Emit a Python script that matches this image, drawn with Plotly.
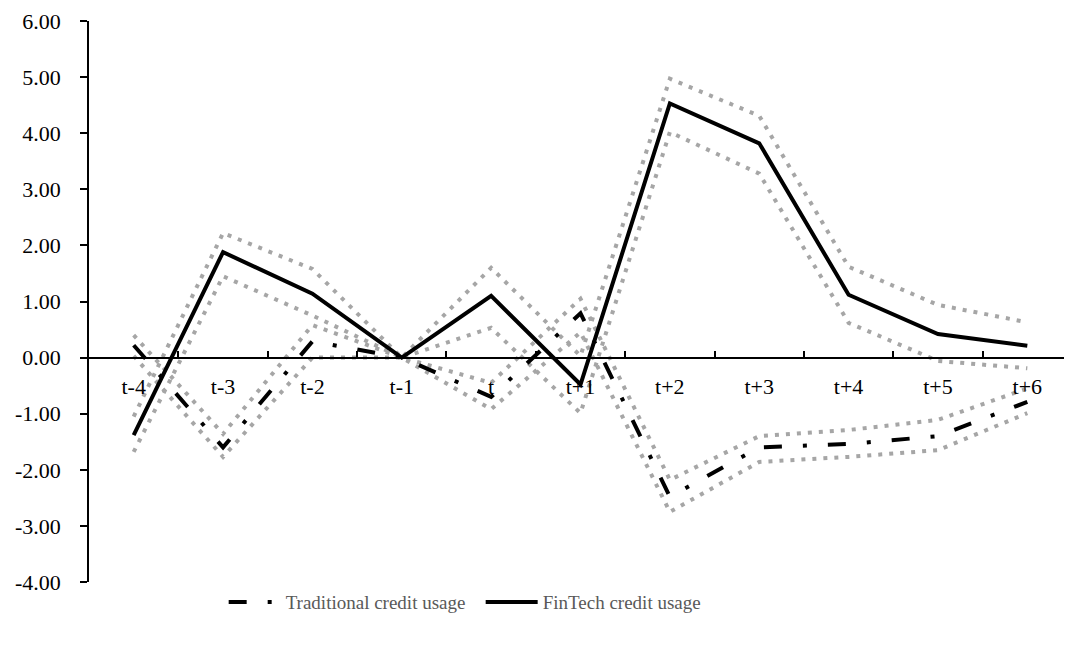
import plotly.graph_objects as go

categories = ["t-4", "t-3", "t-2", "t-1", "t", "t+1", "t+2", "t+3", "t+4", "t+5", "t+6"]

traditional = [0.22, -1.60, 0.29, 0.00, -0.70, 0.79, -2.48, -1.60, -1.54, -1.40, -0.79]
traditional_upper = [0.40, -1.36, 0.58, 0.00, -0.45, 1.05, -2.18, -1.40, -1.29, -1.11, -0.55]
traditional_lower = [0.03, -1.77, 0.00, 0.00, -0.92, 0.45, -2.75, -1.86, -1.77, -1.65, -0.99]

fintech = [-1.38, 1.88, 1.14, 0.00, 1.10, -0.48, 4.53, 3.82, 1.12, 0.42, 0.21]
fintech_upper = [-1.05, 2.22, 1.58, 0.00, 1.60, 0.03, 4.97, 4.31, 1.62, 0.94, 0.63]
fintech_lower = [-1.68, 1.45, 0.75, 0.00, 0.53, -0.99, 4.02, 3.28, 0.62, -0.06, -0.19]

y_ticks = [-4, -3, -2, -1, 0, 1, 2, 3, 4, 5, 6]
y_ticktext = [f"{v:.2f}" for v in y_ticks]

FONT = "Times New Roman, Liberation Serif, serif"
GREY = "#A6A6A6"
CI_DASH = "4px,7px"

fig = go.Figure()

for band in [traditional_upper, traditional_lower, fintech_upper, fintech_lower]:
    fig.add_trace(go.Scatter(
        x=categories, y=band, mode="lines",
        line=dict(color=GREY, width=4, dash=CI_DASH),
        showlegend=False, hoverinfo="skip",
    ))

fig.add_trace(go.Scatter(
    x=categories, y=traditional, mode="lines", name="Traditional credit usage",
    line=dict(color="black", width=4, dash="18px,21px,4px,21px"),
))
fig.add_trace(go.Scatter(
    x=categories, y=fintech, mode="lines", name="FinTech credit usage",
    line=dict(color="black", width=4),
))

fig.update_layout(
    width=1064, height=638,
    margin=dict(l=81, r=0, t=13, b=64, autoexpand=False),
    paper_bgcolor="white", plot_bgcolor="white",
    font=dict(family=FONT, size=22, color="black"),
    showlegend=True,
    legend=dict(
        orientation="h", x=0.137, xanchor="left", y=-0.036, yanchor="middle",
        font=dict(family=FONT, size=19, color="#595959"),
        itemwidth=52, entrywidth=190, bgcolor="rgba(0,0,0,0)",
    ),
    xaxis=dict(
        type="category", range=[-0.5, 10.5],
        anchor="free", position=0.4, automargin=False,
        showline=True, linecolor="black", linewidth=1.5,
        ticks="inside", ticklen=6, tickwidth=1.5, tickcolor="black",
        tickson="boundaries", showgrid=False, zeroline=False,
        ticklabelstandoff=9,
        tickfont=dict(family=FONT, size=22, color="black"),
    ),
    yaxis=dict(
        range=[-4, 6], tickvals=y_ticks, ticktext=y_ticktext, automargin=False,
        showline=True, linecolor="black", linewidth=1.5,
        ticks="outside", ticklen=7, tickwidth=1.5, tickcolor="black",
        showgrid=False, zeroline=False, ticklabelstandoff=15,
        tickfont=dict(family=FONT, size=22, color="black"),
    ),
)

fig.write_html("out.html")
